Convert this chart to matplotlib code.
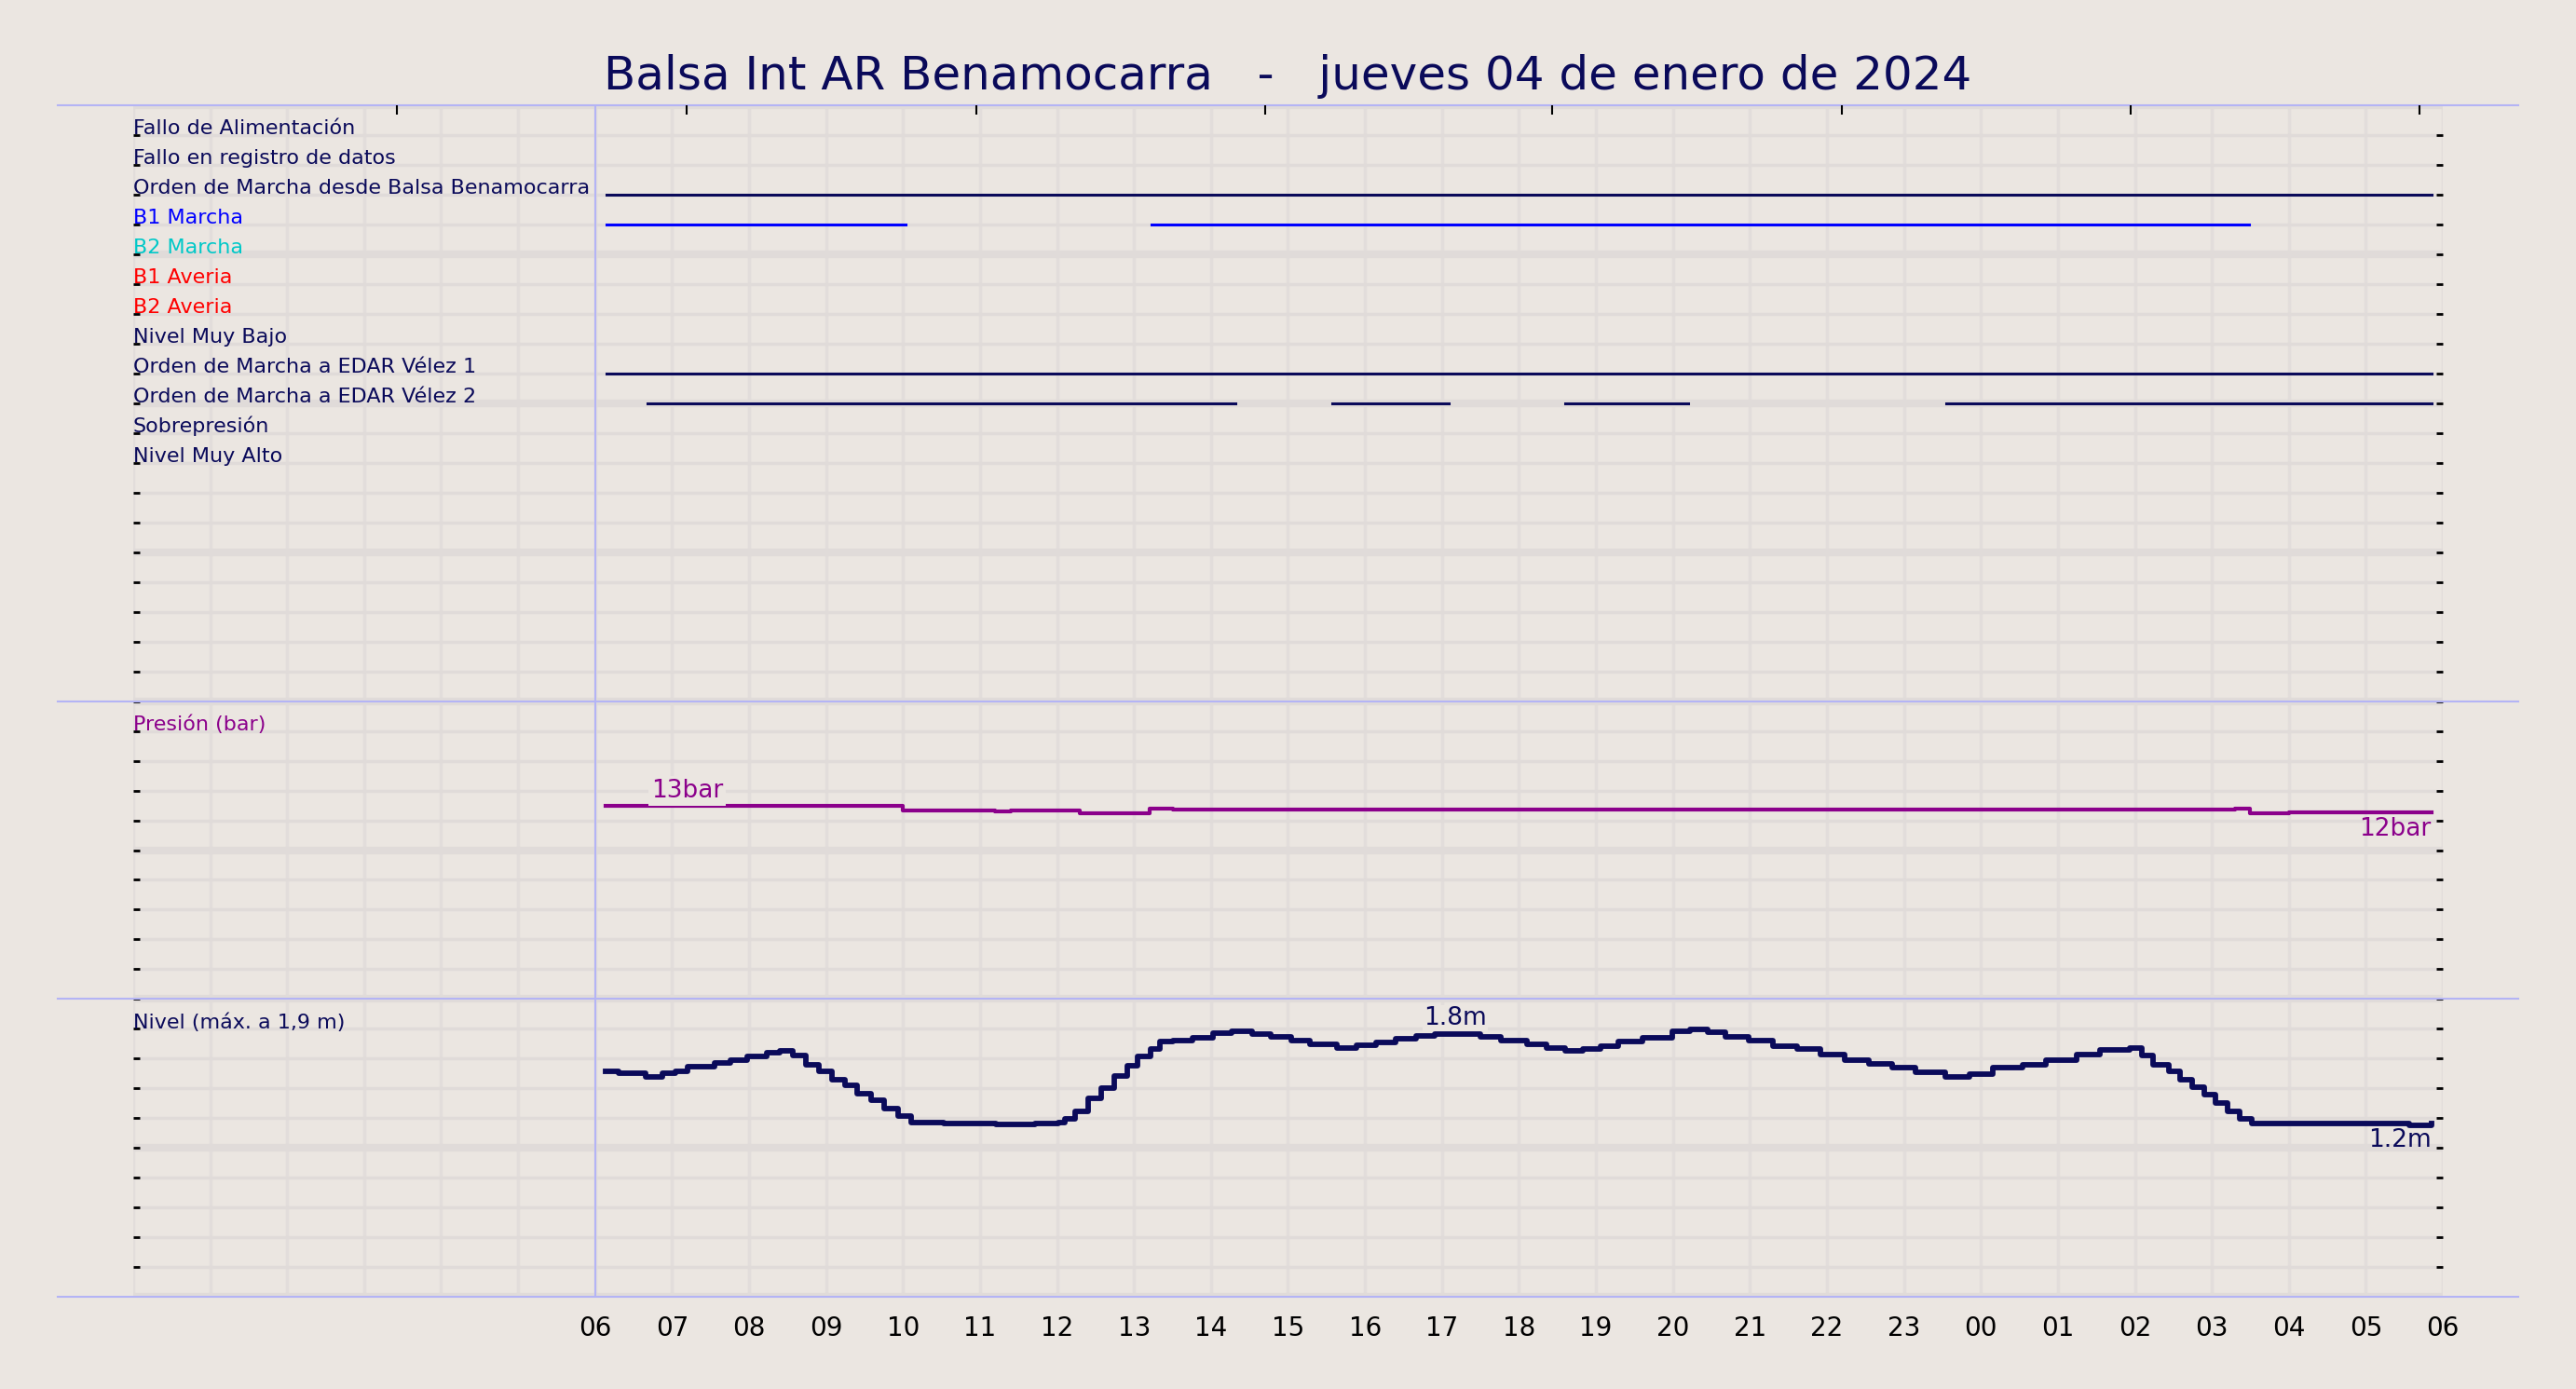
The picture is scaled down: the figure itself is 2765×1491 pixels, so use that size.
import numpy as np
import matplotlib
matplotlib.use("Agg")
import matplotlib.pyplot as plt

bg = "#ebe6e1"
navy = "#0a0a5a"

title = "Balsa Int AR Benamocarra   -   jueves 04 de enero de 2024"

signal_labels = ["Fallo de Alimentación", "Fallo en registro de datos",
                 "Orden de Marcha desde Balsa Benamocarra", "B1 Marcha", "B2 Marcha",
                 "B1 Averia", "B2 Averia", "Nivel Muy Bajo",
                 "Orden de Marcha a EDAR Vélez 1", "Orden de Marcha a EDAR Vélez 2",
                 "Sobrepresión", "Nivel Muy Alto"]
signal_colors = [navy, navy, navy, "#0000ff", "#00c8c8", "#ff0000", "#ff0000",
                 navy, navy, navy, navy, navy]

# on intervals (hours since 00:00 of the day) per signal index
signal_on = {
    2: [(6.15, 29.85)],
    3: [(6.15, 10.03), (13.23, 27.48)],
    8: [(6.15, 29.85)],
    9: [(6.68, 14.32), (15.58, 17.09), (18.6, 20.2), (23.55, 29.85)],
}

pres_h = [6.14, 10.0, 11.2, 11.4, 12.3, 13.2, 13.5, 15.6, 15.7, 27.3, 27.5, 28.0, 29.85]
pres_v = [12.94, 12.63, 12.60, 12.63, 12.46, 12.79, 12.73, 12.71, 12.73, 12.78, 12.50, 12.53, 12.53]

lvl_h = [6.14, 6.31, 6.66, 6.87, 7.04, 7.2, 7.55, 7.76, 7.97, 8.23, 8.4, 8.57, 8.74,
         8.91, 9.08, 9.25, 9.4, 9.59, 9.76, 9.93, 10.1, 10.53, 11.21, 11.72, 12.02,
         12.1, 12.23, 12.4, 12.57, 12.74, 12.91, 13.04, 13.21, 13.34, 13.5, 13.76,
         14.02, 14.27, 14.53, 14.78, 15.04, 15.29, 15.63, 15.89, 16.14, 16.4, 16.66,
         16.91, 17.17, 17.5, 17.76, 18.1, 18.36, 18.6, 18.83, 19.06, 19.29, 19.6,
         19.99, 20.22, 20.45, 20.68, 20.99, 21.3, 21.61, 21.92, 22.23, 22.54, 22.85,
         23.15, 23.54, 23.85, 24.16, 24.54, 24.85, 25.24, 25.55, 25.93, 26.09, 26.24,
         26.44, 26.59, 26.74, 26.9, 27.05, 27.2, 27.36, 27.52, 28.48, 29.25, 29.56, 29.85]
lvl_v = [1.514, 1.503, 1.48, 1.50, 1.518, 1.545, 1.57, 1.587, 1.614, 1.64, 1.654, 1.62,
         1.56, 1.514, 1.46, 1.42, 1.363, 1.32, 1.263, 1.217, 1.17, 1.163, 1.158, 1.163,
         1.17, 1.196, 1.246, 1.336, 1.40, 1.482, 1.555, 1.618, 1.664, 1.712, 1.722,
         1.74, 1.769, 1.781, 1.765, 1.748, 1.723, 1.698, 1.67, 1.69, 1.706, 1.733,
         1.754, 1.767, 1.764, 1.748, 1.723, 1.698, 1.67, 1.65, 1.664, 1.685, 1.712,
         1.74, 1.785, 1.796, 1.775, 1.748, 1.723, 1.685, 1.664, 1.629, 1.593, 1.566,
         1.539, 1.51, 1.476, 1.497, 1.539, 1.56, 1.593, 1.629, 1.66, 1.67, 1.622, 1.56,
         1.514, 1.46, 1.409, 1.357, 1.305, 1.246, 1.196, 1.165, 1.163, 1.163, 1.154, 1.163]

hour_ticks = list(range(6, 31))
hour_labels = ["%02d" % (h % 24) for h in hour_ticks]
top_ticks = [3.43, 7.19, 10.95, 14.7, 18.43, 22.19, 25.95, 29.7]

# rows: 0..40 from top, panels 0-20 / 20-30 / 30-40
def pres_row(p):
    return 30 - np.asarray(p) / 2.0

def lvl_row(l):
    return 40 - 5.0 * np.asarray(l)

fig = plt.figure(figsize=(27.65, 14.91), dpi=100, facecolor=bg)
ax = fig.add_axes([0.0517, 0.0662, 0.8966, 0.8581], facecolor=bg)
ax.set_xlim(0, 30)
ax.set_ylim(40, 0)

for h in range(0, 31):
    ax.axvline(h, color="#e2dddb", lw=2.5, zorder=0)
for r in range(0, 41):
    thick = r % 5 == 0
    ax.axhline(r, color="#e0dbd9", lw=6 if thick else 2.5, zorder=0)

for s in ax.spines.values():
    s.set_visible(False)

ax.set_xticks(hour_ticks)
ax.set_xticklabels(hour_labels, fontsize=20)
ax.tick_params(axis="x", length=0, pad=14)
ax.set_yticks(range(1, 40))
ax.set_yticklabels([])
ax.tick_params(axis="y", direction="in", length=5, width=2, left=True, right=True, colors="black")

top = ax.twiny()
top.set_xlim(0, 30)
top.set_xticks(top_ticks)
top.set_xticklabels([])
top.tick_params(axis="x", direction="in", length=7, width=1.5)
for s in top.spines.values():
    s.set_visible(False)

# panel borders and 06 marker
for r in [0, 20, 30, 40]:
    ax.plot([-0.98, 30.98], [r, r], color="#b4b4f5", lw=1.5, clip_on=False, zorder=3)
ax.plot([6, 6], [0, 40], color="#b4b4f5", lw=1.5, zorder=3)

for i, (lab, col) in enumerate(zip(signal_labels, signal_colors)):
    ax.text(0.0, i + 1 + 0.1, lab, color=col, fontsize=16, va="bottom", ha="left", zorder=5,
            bbox=dict(facecolor=bg, edgecolor="none", pad=0, alpha=0.0))
    for a, b in signal_on.get(i, []):
        ax.plot([a, b], [i + 1, i + 1], color=col, lw=2.2, zorder=4)

ax.text(0.0, 21 + 0.1, "Presión (bar)", color="#8b008b", fontsize=16, va="bottom", zorder=5)
ax.plot(pres_h, pres_row(pres_v), color="#8b008b", lw=3, drawstyle="steps-post", zorder=4)
ax.text(7.2, pres_row(max(pres_v)) - 0.1, "13bar", color="#8b008b", fontsize=19, ha="center",
        va="bottom", zorder=6, bbox=dict(facecolor=bg, edgecolor="none", pad=2))
ax.text(29.85, pres_row(pres_v[-1]) + 0.15, "12bar", color="#8b008b", fontsize=19, ha="right",
        va="top", zorder=6)

ax.text(0.0, 31 + 0.1, "Nivel (máx. a 1,9 m)", color=navy, fontsize=16, va="bottom", zorder=5)
ax.plot(lvl_h, lvl_row(lvl_v), color=navy, lw=4.2, drawstyle="steps-post", zorder=4)
ax.text(17.17, lvl_row(max(lvl_v[:50])) - 0.05, "1.8m", color=navy, fontsize=19, ha="center",
        va="bottom", zorder=6, bbox=dict(facecolor=bg, edgecolor="none", pad=1))
ax.text(29.85, lvl_row(lvl_v[-1]) + 0.15, "1.2m", color=navy, fontsize=19, ha="right",
        va="top", zorder=6)

fig.text(0.5, 0.945, title, ha="center", va="center", fontsize=36, color=navy)

fig.savefig("out.png", dpi=100, facecolor=bg)
